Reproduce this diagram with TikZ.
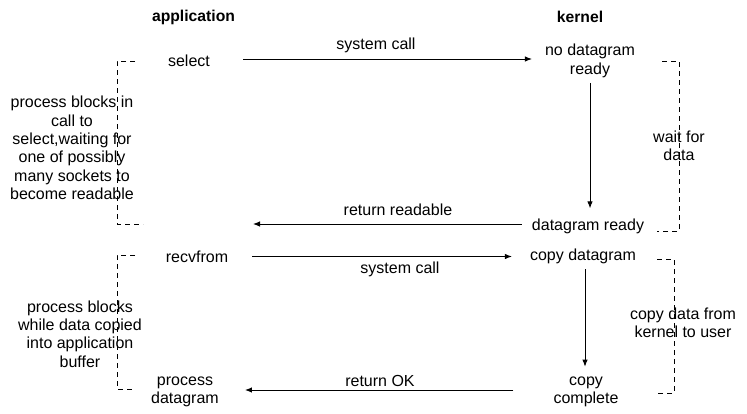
\documentclass[tikz,border=0pt]{standalone}
\usepackage{fontspec}
\setmainfont{Liberation Sans}
\usetikzlibrary{arrows.meta}
\begin{document}
\begin{tikzpicture}[x=1pt,y=-1pt,
  txt/.style={inner sep=0pt,align=center,font=\fontsize{16}{18.4}\selectfont},
  hdr/.style={inner sep=0pt,font=\fontsize{15.7}{18.4}\selectfont\bfseries},
  arr/.style={line width=0.9pt,-{Latex[length=7pt,width=5.5pt]}},
  brk/.style={line width=0.9pt,dash pattern=on 5pt off 4pt}]
\useasboundingbox (0,0) rectangle (747,413);
% headers
\node[hdr] (app) at (193.5,17) {application};
\node[hdr] (ker) at (580,17) {kernel};
% application side
\node[txt] (select) at (189,61) {select};
\node[txt] (recv) at (197,256.5) {recvfrom};
\node[txt] (procdg) at (185,392) {process\\datagram};
% kernel side
\node[txt] (nodg) at (590,61) {no datagram\\ready};
\node[txt] (dready) at (588,226) {datagram ready};
\node[txt] (copydg) at (583,256.5) {copy datagram};
\node[txt] (copyc) at (586,392) {copy\\complete};
% side notes
\node[txt] (lnote1) at (72,148) {process blocks in\\call to\\select,waiting for\\one of possibly\\many sockets to\\become readable};
\node[txt] (lnote2) at (80,334) {process blocks\\while data copied\\into application\\buffer};
\node[txt] (rnote1) at (679,146) {wait for\\data};
\node[txt] (rnote2) at (683,322.5) {copy data from\\kernel to user};
% arrow labels
\node[txt] (l1) at (376,45) {system call};
\node[txt] (l2) at (398,210) {return readable};
\node[txt] (l3) at (400,269) {system call};
\node[txt] (l4) at (380,381) {return OK};
% connectors
\coordinate (rdend) at (253,224);
\draw[arr] ([xshift=33pt,yshift=2pt]select.east) -- ([xshift=-13pt,yshift=2pt]nodg.west);
\draw[arr,shorten <=5pt,shorten >=10pt] (nodg.south) -- (nodg.south |- dready.north);
\draw[arr] ([xshift=-10pt,yshift=2pt]dready.west) -- (rdend);
\draw[arr] ([xshift=24pt]recv.east) -- ([xshift=-18pt]copydg.west);
\draw[arr,shorten <=5pt,shorten >=10pt] ([xshift=2pt]copydg.south) -- ([xshift=2pt]copydg.south |- copyc.north);
\draw[arr] ([xshift=-40pt,yshift=2pt]copyc.west) -- ([xshift=26pt,yshift=2pt]procdg.east);
% brackets
\draw[brk] (135,61) -- (117,61) -- (117,224) -- (143,224);
\draw[brk] (135,255) -- (117,255) -- (117,389) -- (135,389);
\draw[brk] (662,61) -- (679,61) -- (679,231) -- (657,231);
\draw[brk] (657,259) -- (674,259) -- (674,393) -- (657,393);
\end{tikzpicture}
\end{document}
